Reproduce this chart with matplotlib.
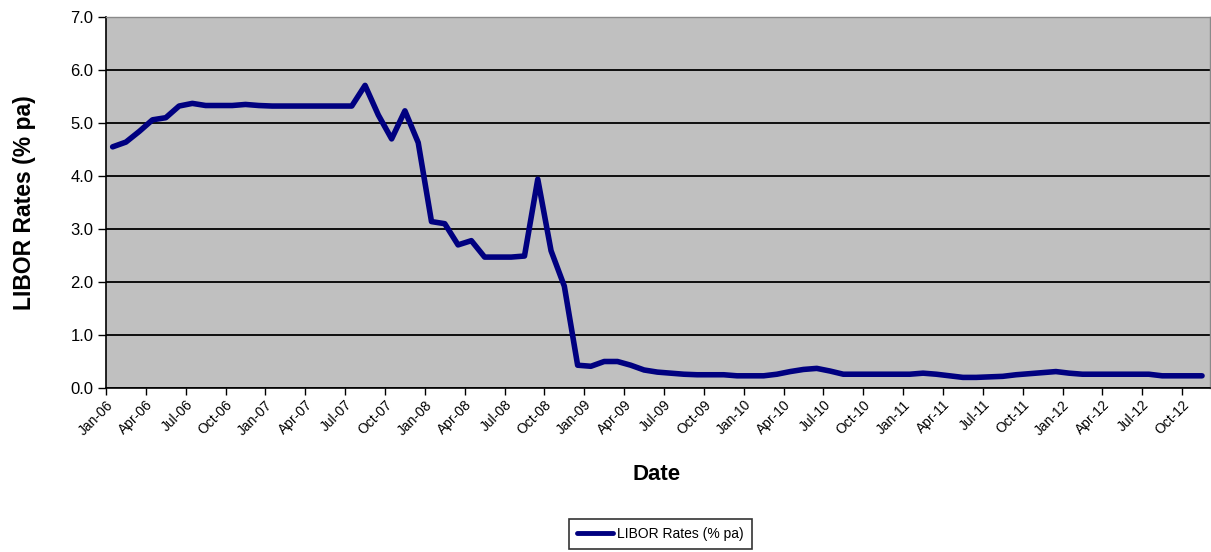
import matplotlib
matplotlib.use('Agg')
import matplotlib.pyplot as plt
import numpy as np

plt.rcParams['font.family'] = ['Liberation Sans', 'DejaVu Sans']

# Monthly LIBOR rates (% pa), Jan-06 .. Nov-12
rates = [
    4.55, 4.64, 4.84, 5.06, 5.10, 5.32, 5.37, 5.33, 5.33, 5.33, 5.35, 5.33,  # 2006
    5.32, 5.32, 5.32, 5.32, 5.32, 5.32, 5.32, 5.71, 5.15, 4.70, 5.23, 4.63,  # 2007
    3.14, 3.10, 2.70, 2.78, 2.47, 2.47, 2.47, 2.49, 3.94, 2.59, 1.92, 0.43,  # 2008
    0.41, 0.50, 0.50, 0.43, 0.34, 0.30, 0.28, 0.26, 0.25, 0.25, 0.25, 0.23,  # 2009
    0.23, 0.23, 0.26, 0.31, 0.35, 0.37, 0.32, 0.26, 0.26, 0.26, 0.26, 0.26,  # 2010
    0.26, 0.28, 0.26, 0.23, 0.20, 0.20, 0.21, 0.22, 0.25, 0.27, 0.29, 0.31,  # 2011
    0.28, 0.26, 0.26, 0.26, 0.26, 0.26, 0.26, 0.23, 0.23, 0.23, 0.23,        # 2012
]
tick_labels = ['Jan-06', 'Apr-06', 'Jul-06', 'Oct-06', 'Jan-07', 'Apr-07', 'Jul-07',
               'Oct-07', 'Jan-08', 'Apr-08', 'Jul-08', 'Oct-08', 'Jan-09', 'Apr-09',
               'Jul-09', 'Oct-09', 'Jan-10', 'Apr-10', 'Jul-10', 'Oct-10', 'Jan-11',
               'Apr-11', 'Jul-11', 'Oct-11', 'Jan-12', 'Apr-12', 'Jul-12', 'Oct-12']
y_ticks = [0.0, 1.0, 2.0, 3.0, 4.0, 5.0, 6.0, 7.0]
series_name = 'LIBOR Rates (% pa)'

fig = plt.figure(figsize=(12.11, 5.52), dpi=100)
ax = fig.add_axes([106 / 1211, 1 - 388 / 552, (1210 - 106) / 1211, (388 - 17) / 552])
ax.set_facecolor('#C0C0C0')

x = np.arange(len(rates)) + 0.5
ax.plot(x, rates, color='#000080', lw=4.0, solid_joinstyle='round',
        solid_capstyle='round', label=series_name, zorder=3)

ax.set_xlim(0, 83.1)
ax.set_ylim(0, 7)
ax.set_yticks(y_ticks)
ax.set_yticklabels([f'{v:.1f}' for v in y_ticks], fontsize=12)
ax.set_xticks(np.arange(len(tick_labels)) * 3)
ax.set_xticklabels(tick_labels, rotation=45, ha='right', va='top',
                   rotation_mode='anchor', fontsize=10)
for t in ax.get_xticklabels():
    t.set_x(t.get_position()[0])

ax.grid(axis='y', color='black', lw=1.3, zorder=1)
ax.set_axisbelow(True)
ax.tick_params(axis='y', direction='out', length=6, width=1, pad=3)
ax.tick_params(axis='x', direction='out', length=5, width=1, pad=2)

for s in ['left', 'bottom']:
    ax.spines[s].set_color('black')
    ax.spines[s].set_linewidth(1.2)
for s in ['top', 'right']:
    ax.spines[s].set_color('#8a8a8a')
    ax.spines[s].set_linewidth(1.0)

ax.set_xlabel('Date', fontsize=16, fontweight='bold', va='center')
ax.xaxis.set_label_coords((657 - 106) / 1104, (388 - 475) / 371)
ax.set_ylabel(series_name, fontsize=16.5, fontweight='bold', va='center')
ax.yaxis.set_label_coords((25 - 106) / 1104, (388 - 203) / 371)

leg = fig.legend(loc='center', bbox_to_anchor=(660.5 / 1211, 1 - 534 / 552),
                 fontsize=10, frameon=True, fancybox=False, handlelength=2.6,
                 handletextpad=0.3, borderpad=0.6)
leg.get_frame().set_edgecolor('black')
leg.get_frame().set_linewidth(1.2)
for l in leg.get_lines():
    l.set_linewidth(3.5)

fig.savefig('out.png', dpi=100)
